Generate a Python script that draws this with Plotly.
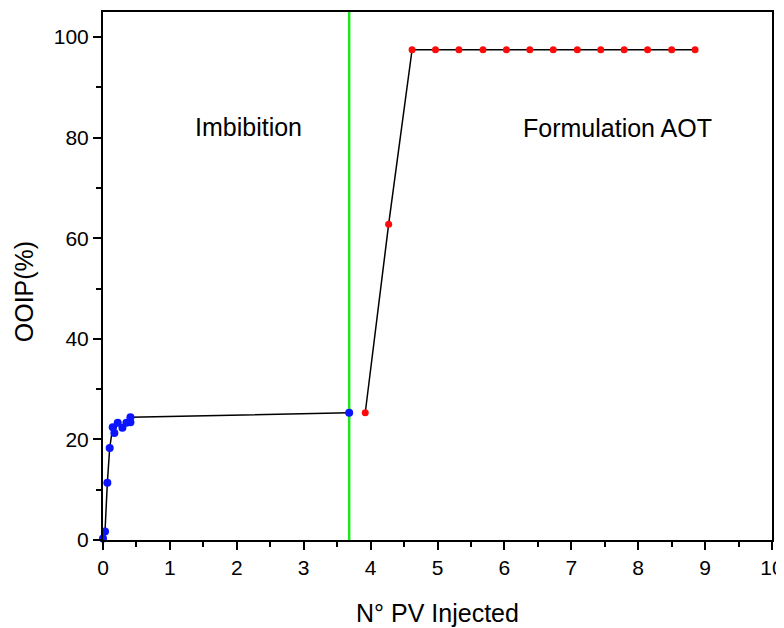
import plotly.graph_objects as go

# Imbibition stage (blue)
imb_pv = [0.0, 0.03, 0.065, 0.10, 0.145, 0.17, 0.22, 0.29, 0.35, 0.41, 0.41, 3.68]
imb_ooip = [0.3, 1.7, 11.4, 18.3, 22.4, 21.3, 23.3, 22.3, 23.3, 23.4, 24.4, 25.3]

# Formulation AOT stage (red)
aot_pv = [3.92, 4.27, 4.62, 4.97, 5.32, 5.68, 6.03, 6.38, 6.73, 7.09, 7.44, 7.79, 8.14, 8.50, 8.85]
aot_ooip = [25.3, 62.8, 97.5, 97.5, 97.5, 97.5, 97.5, 97.5, 97.5, 97.5, 97.5, 97.5, 97.5, 97.5, 97.5]

separator_pv = 3.68
x_ticks = [0, 1, 2, 3, 4, 5, 6, 7, 8, 9, 10]
y_ticks = [0, 20, 40, 60, 80, 100]

FONT = "Arial, Liberation Sans, sans-serif"

fig = go.Figure()
fig.add_trace(go.Scatter(
    x=imb_pv, y=imb_ooip, mode="lines+markers",
    line=dict(color="black", width=1.5),
    marker=dict(color="#0a14ff", size=8),
    cliponaxis=False, showlegend=False))
fig.add_trace(go.Scatter(
    x=aot_pv, y=aot_ooip, mode="lines+markers",
    line=dict(color="black", width=1.5),
    marker=dict(color="#ff0a0a", size=7),
    cliponaxis=False, showlegend=False))

fig.add_shape(type="line", xref="x", yref="paper",
              x0=separator_pv, x1=separator_pv, y0=0, y1=1,
              line=dict(color="#1ee61e", width=2.5), layer="below")

fig.add_annotation(x=2.18, y=82.2, text="Imbibition", showarrow=False,
                   font=dict(family=FONT, size=25, color="black"))
fig.add_annotation(x=7.69, y=82.0, text="Formulation AOT", showarrow=False,
                   font=dict(family=FONT, size=25, color="black"))
fig.add_annotation(xref="paper", yref="paper", x=-0.119, y=0.47,
                   text="OOIP(%)", textangle=-90, showarrow=False,
                   xanchor="center", yanchor="middle",
                   font=dict(family=FONT, size=25, color="black"))

axis_common = dict(
    showline=True, linecolor="black", linewidth=2, mirror=True,
    ticks="outside", ticklen=8, tickwidth=2, tickcolor="black",
    showgrid=False, zeroline=False,
    tickfont=dict(family=FONT, size=21, color="black"),
)

fig.update_xaxes(range=[0, 10], tickvals=x_ticks, ticktext=[str(v) for v in x_ticks],
                 minor=dict(ticks="outside", ticklen=5, tickwidth=2, dtick=0.5, tickcolor="black", showgrid=False),
                 title=dict(text="N° PV Injected", font=dict(family=FONT, size=25, color="black"), standoff=26),
                 **axis_common)
fig.update_yaxes(range=[0, 105], tickvals=y_ticks, ticktext=[str(v) for v in y_ticks],
                 minor=dict(ticks="outside", ticklen=5, tickwidth=2, dtick=10, tickcolor="black", showgrid=False),
                 **axis_common)

# page body has an 8px default margin; compensate so the plot box lands where the reference has it
fig.update_layout(
    width=776, height=620,
    margin=dict(l=95, r=12, t=4, b=88, autoexpand=False),
    plot_bgcolor="white", paper_bgcolor="white",
    font=dict(family=FONT, color="black"),
)

fig.write_html("out.html")
